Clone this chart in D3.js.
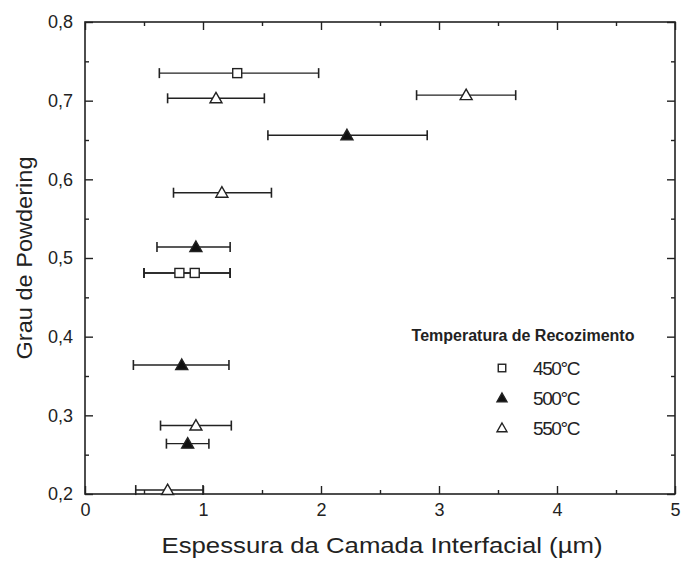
<!DOCTYPE html>
<html>
<head>
<meta charset="utf-8">
<script src="https://cdn.jsdelivr.net/npm/d3@7"></script>
<style>
  body { margin: 0; background: #fff; }
  svg { display: block; }
  text { font-family: "Liberation Sans", Arial, sans-serif; fill: #222; }
</style>
</head>
<body>
<div id="chart"></div>
<script>
// valeurs : espessura (x), erro min/max, grau (y)
var series = ["450°C", "500°C", "550°C"];
var symbols = ["square", "filled", "open"];

var x450 = [1.29, 0.80, 0.93];
var y450 = [0.735, 0.481, 0.481];
var lo450 = [0.63, 0.50, 0.50];
var hi450 = [1.98, 1.23, 1.23];

var x500 = [2.22, 0.94, 0.82, 0.87];
var y500 = [0.656, 0.514, 0.364, 0.264];
var lo500 = [1.55, 0.61, 0.41, 0.69];
var hi500 = [2.90, 1.23, 1.22, 1.05];

var x550 = [1.11, 3.23, 1.16, 0.94, 0.70];
var y550 = [0.703, 0.707, 0.583, 0.287, 0.205];
var lo550 = [0.70, 2.81, 0.75, 0.64, 0.43];
var hi550 = [1.52, 3.65, 1.58, 1.24, 1.00];

var xTicks = [0, 1, 2, 3, 4, 5];
var yTicks = [0.2, 0.3, 0.4, 0.5, 0.6, 0.7, 0.8];

var W = 681, H = 563;
var m_left = 85, m_right = 675, m_top = 22, m_bottom = 494;

var svg = d3.select('#chart').append('svg').attr('width', W).attr('height', H);

var x = d3.scaleLinear().domain([0, 5]).range([m_left, m_right]);
var y = d3.scaleLinear().domain([0.2, 0.8]).range([m_bottom, m_top]);

// cadre
svg.append('rect')
    .attr('x', m_left).attr('y', m_top)
    .attr('width', m_right - m_left).attr('height', m_bottom - m_top)
    .attr('fill', 'none').attr('stroke', '#222').attr('stroke-width', 1.6);

function fmt(d) { return d3.format('.1f')(d).replace('.', ','); }

// axes avec ticks vers l'interieur
var gx = svg.append('g').attr('transform', 'translate(0,' + m_bottom + ')')
    .call(d3.axisBottom(x).tickValues(xTicks).tickSizeInner(-8).tickSizeOuter(0).tickPadding(9).tickFormat(d3.format('d')));
var gy = svg.append('g').attr('transform', 'translate(' + m_left + ',0)')
    .call(d3.axisLeft(y).tickValues(yTicks).tickSizeInner(-8).tickSizeOuter(0).tickPadding(12).tickFormat(fmt));
svg.append('g').attr('transform', 'translate(0,' + m_top + ')')
    .call(d3.axisTop(x).tickValues(xTicks).tickSizeInner(-8).tickSizeOuter(0).tickFormat(''));
svg.append('g').attr('transform', 'translate(' + m_right + ',0)')
    .call(d3.axisRight(y).tickValues(yTicks).tickSizeInner(-8).tickSizeOuter(0).tickFormat(''));

// ticks mineurs
var xMinor = d3.range(0.5, 5, 1);
var yMinor = d3.range(0.25, 0.8, 0.1);
svg.append('g').attr('transform', 'translate(0,' + m_bottom + ')')
    .call(d3.axisBottom(x).tickValues(xMinor).tickSizeInner(-4).tickSizeOuter(0).tickFormat(''));
svg.append('g').attr('transform', 'translate(0,' + m_top + ')')
    .call(d3.axisTop(x).tickValues(xMinor).tickSizeInner(-4).tickSizeOuter(0).tickFormat(''));
svg.append('g').attr('transform', 'translate(' + m_left + ',0)')
    .call(d3.axisLeft(y).tickValues(yMinor).tickSizeInner(-4).tickSizeOuter(0).tickFormat(''));
svg.append('g').attr('transform', 'translate(' + m_right + ',0)')
    .call(d3.axisRight(y).tickValues(yMinor).tickSizeInner(-4).tickSizeOuter(0).tickFormat(''));

svg.selectAll('.domain').remove();
svg.selectAll('.tick line').attr('stroke', '#222').attr('stroke-width', 1.4);
svg.selectAll('.tick text').attr('font-size', 18).attr('fill', '#222')
    .attr('font-family', '"Liberation Sans", Arial, sans-serif');

// titres des axes
svg.append('text')
    .attr('x', 382).attr('y', 553)
    .attr('text-anchor', 'middle').attr('font-size', 22)
    .attr('textLength', 441).attr('lengthAdjust', 'spacingAndGlyphs')
    .text('Espessura da Camada Interfacial (\u00b5m)');
svg.append('text')
    .attr('transform', 'translate(32,' + 258 + ') rotate(-90)')
    .attr('text-anchor', 'middle').attr('font-size', 22)
    .attr('textLength', 203).attr('lengthAdjust', 'spacingAndGlyphs')
    .text('Grau de Powdering');

// dessin d'un symbole
function draw_symbol(g, kind, cx, cy, sz) {
    if (kind == "square") {
        g.append('rect').attr('x', cx - sz * 0.75).attr('y', cy - sz * 0.75)
            .attr('width', sz * 1.5).attr('height', sz * 1.5)
            .attr('fill', '#fff').attr('stroke', '#222').attr('stroke-width', 1.4);
    } else {
        var pts = [[cx, cy - sz], [cx + sz, cy + sz * 0.75], [cx - sz, cy + sz * 0.75]];
        g.append('polygon').attr('points', pts.map(function(p){ return p.join(','); }).join(' '))
            .attr('fill', kind == "filled" ? '#111' : '#fff')
            .attr('stroke', '#222').attr('stroke-width', 1.4);
    }
}

var plot = svg.append('g');
var allX = [x450, x500, x550], allY = [y450, y500, y550];
var allLo = [lo450, lo500, lo550], allHi = [hi450, hi500, hi550];

// barres d'erreur
for (var s = 0; s < 3; s++) {
    for (var i = 0; i < allX[s].length; i++) {
        var py = y(allY[s][i]);
        var x1 = x(allLo[s][i]), x2 = x(allHi[s][i]);
        plot.append('line').attr('x1', x1).attr('x2', x2).attr('y1', py).attr('y2', py)
            .attr('stroke', '#222').attr('stroke-width', 1.4);
        [x1, x2].forEach(function(xx) {
            plot.append('line').attr('x1', xx).attr('x2', xx).attr('y1', py - 5).attr('y2', py + 5)
                .attr('stroke', '#222').attr('stroke-width', 1.6);
        });
    }
}
// points
for (var s = 0; s < 3; s++) {
    for (var i = 0; i < allX[s].length; i++) {
        draw_symbol(plot, symbols[s], x(allX[s][i]), y(allY[s][i]), 6);
    }
}

// legende
var leg = svg.append('g');
leg.append('text').attr('x', 523).attr('y', 341).attr('text-anchor', 'middle')
    .attr('font-size', 16).attr('font-weight', 'bold').attr('fill', '#111')
    .text('Temperatura de Recozimento');
series.forEach(function(name, k) {
    var ly = 368 + k * 30;
    draw_symbol(leg, symbols[k], 502, ly, 5);
    leg.append('text').attr('x', 533).attr('y', ly + 7)
        .attr('font-size', 19).attr('letter-spacing', -1.4).text(name);
});
</script>
</body>
</html>
